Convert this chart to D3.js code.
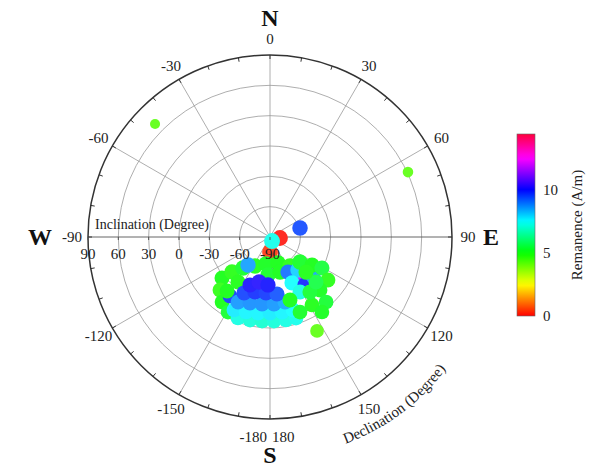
<!DOCTYPE html>
<html>
<head>
<meta charset="utf-8">
<script src="https://cdn.jsdelivr.net/npm/d3@7"></script>
<style>
  body { margin: 0; background: #fff; }
  text { font-family: "Liberation Serif", "Times New Roman", serif; fill: #222; }
</style>
</head>
<body>
<div id="chart"></div>
<script>
// Data: declination (deg, clockwise from N), inclination (deg), remanence (A/m)
const declination = [
  149, 180, 180,
  229.5, 227.4, 221, 207.3, 188.4, 162.9, 223.3, 216.4, 209.2, 215.4, 183, 164, 145.4, 214.1, 218.5,
  201.6, 193.5, 185.4, 177.3, 169.1, 162.2,
  206.3, 197.7, 189, 180, 170.9, 162.5,
  206.2, 196.9, 186.8, 176.6, 167,
  204.9, 195.3, 184.1, 173,
  202.6, 193.7, 182.4,
  152.8, 139.7, 154.4, 143.9, 132.2, 151.4,
  129.8, 123.7, 120.8, 126.6, 136.7, 139.2, 148.3, 158.2, 162.4, 144, 134.4, 145.3, 134.2,
  218.2, 314.5, 64.8, 153.4,
  73.3, 95.7, 153.4
];
const inclination = [
  -38.1, -59.3, -75.2,
  -27.6, -38.9, -49.3, -57.7, -63, -63.1, -17.9, -10.1, -4.9, -35.4, -52.4, -54, -55.2, -19.5, -21.8,
  -3.9, -5.5, -6.5, -6.8, -6.4, -5.8,
  -9.5, -12.2, -13.9, -14.8, -14.8, -14.3,
  -18.4, -21.8, -23.3, -23.6, -24,
  -29, -33.6, -34.5, -33.2,
  -38.6, -44.2, -42.5,
  -51, -47.2, -39.6, -31.3, -32.6, -28,
  -51.4, -40, -30.2, -18.6, -17.9, -5.1, -11, -10.1, -24.6, -22.8, -26.3, 0.3, -40.3,
  -54.8, 69.4, 60.8, 13.9,
  -59, -80.1, -85.5
];
const remanence = [
  12, 12, 0.4,
  5, 4.8, 5.2, 4.9, 5.1, 5, 4.7, 5, 5.3, 4.9, 5.2, 5, 4.8, 9.6, 5,
  7.2, 7.1, 7.0, 7.1, 7.2, 7.3,
  7.7, 7.6, 7.6, 7.7, 7.6, 7.5,
  8.6, 8.7, 8.7, 8.6, 8.4,
  9.5, 9.7, 9.6, 9.3,
  10.1, 10.2, 10,
  9, 8, 7.5, 9.8, 8.5, 7.2,
  5.2, 5, 5.4, 4.8, 5.1, 5.3, 4.9, 5.2, 5, 5.3, 5.5, 5.1, 4.9,
  8.5, 4.2, 4.2, 4.2,
  9.4, 0.1, 7.3
];

const decTicks = d3.range(0, 360, 30);
const decLabels = ["0", "30", "60", "90", "120", "150", "180", "-150", "-120", "-90", "-60", "-30"];
const incTicks = [90, 60, 30, 0, -30, -60, -90];
const colorTicks = [0, 5, 10];

const width = 608, height = 469;
const cx = 270, cy = 237, R = 182;

const svg = d3.select("#chart").append("svg")
  .attr("width", width)
  .attr("height", height);

const g = svg.append("g").attr("transform", `translate(${cx},${cy})`);

// scales
const rScale = d3.scaleLinear().domain([-90, 90]).range([0, R]);
const aScale = d3.scaleLinear().domain([0, 360]).range([0, 2 * Math.PI]);
const hue = d3.scaleLinear().domain([0, 15]).range([0, 360]);
const color = (v, l = 0.5) => d3.hsl(hue(v), 1, l).toString();
const size = d3.scaleLinear().domain([-90, 0, 70]).range([8, 7.3, 5]);

const px = (dec, inc) => rScale(inc) * Math.sin(aScale(dec));
const py = (dec, inc) => -rScale(inc) * Math.cos(aScale(dec));

// rings
g.selectAll(".ring")
  .data([-60, -30, 0, 30, 60])
  .join("circle")
  .attr("r", d => rScale(d))
  .attr("fill", "none")
  .attr("stroke", "#999")
  .attr("stroke-width", 0.8);

// spokes
g.selectAll(".spoke")
  .data(decTicks.filter(d => d !== 90 && d !== 270))
  .join("line")
  .attr("x1", 0).attr("y1", 0)
  .attr("x2", d => px(d, 90))
  .attr("y2", d => py(d, 90))
  .attr("stroke", "#999")
  .attr("stroke-width", 0.8);

// horizontal inclination axis
g.append("line")
  .attr("x1", -R).attr("x2", R)
  .attr("y1", 0).attr("y2", 0)
  .attr("stroke", "#555")
  .attr("stroke-width", 0.9);

// outer circle
g.append("circle")
  .attr("r", R)
  .attr("fill", "none")
  .attr("stroke", "#333")
  .attr("stroke-width", 1.5);

// minor ticks every 10 degrees
g.selectAll(".mtick")
  .data(d3.range(0, 360, 10))
  .join("line")
  .attr("x1", d => R * Math.sin(aScale(d)))
  .attr("y1", d => -R * Math.cos(aScale(d)))
  .attr("x2", d => (R - 4) * Math.sin(aScale(d)))
  .attr("y2", d => -(R - 4) * Math.cos(aScale(d)))
  .attr("stroke", "#333")
  .attr("stroke-width", 1);

// points
g.selectAll(".pt")
  .data(declination.map((d, i) => ({ dec: d, inc: inclination[i], val: remanence[i] })))
  .join("circle")
  .attr("cx", d => px(d.dec, d.inc))
  .attr("cy", d => py(d.dec, d.inc))
  .attr("r", d => size(d.inc))
  .attr("fill", d => color(d.val, 0.57));

// inclination tick labels (W side)
g.selectAll(".itick")
  .data(incTicks)
  .join("line")
  .attr("x1", d => -rScale(d)).attr("x2", d => -rScale(d))
  .attr("y1", 0).attr("y2", 3)
  .attr("stroke", "#555");

g.selectAll(".ilabel")
  .data(incTicks)
  .join("text")
  .attr("x", d => -rScale(d))
  .attr("y", 22)
  .attr("text-anchor", "middle")
  .style("font-size", "15px")
  .text(d => d);

g.append("text")
  .attr("x", -175)
  .attr("y", -8)
  .style("font-size", "14px")
  .text("Inclination (Degree)");

// declination labels
g.selectAll(".dlabel")
  .data(decTicks.map((d, i) => ({ d, label: decLabels[i] })).filter(d => d.d !== 180))
  .join("text")
  .attr("x", d => 198 * Math.sin(aScale(d.d)))
  .attr("y", d => -198 * Math.cos(aScale(d.d)))
  .attr("text-anchor", "middle")
  .attr("dy", "0.35em")
  .style("font-size", "15px")
  .text(d => d.label);

g.append("text").attr("x", -3).attr("y", 200).attr("dy", "0.35em")
  .attr("text-anchor", "end").style("font-size", "15px").text("-180");
g.append("text").attr("x", 2).attr("y", 200).attr("dy", "0.35em")
  .attr("text-anchor", "start").style("font-size", "15px").text("180");

// compass letters
const compass = [["N", 0, -219], ["S", 0, 218], ["W", -230, 0], ["E", 221, 0]];
g.selectAll(".compass")
  .data(compass)
  .join("text")
  .attr("x", d => d[1])
  .attr("y", d => d[2])
  .attr("dy", "0.35em")
  .attr("text-anchor", "middle")
  .style("font-size", "24px")
  .style("font-weight", "bold")
  .style("fill", "#111")
  .text(d => d[0]);

// declination axis title along the arc
const ar = 220;
const a0 = aScale(161), a1 = aScale(95);
g.append("path")
  .attr("id", "decArc")
  .attr("fill", "none")
  .attr("d", `M${ar * Math.sin(a0)},${-ar * Math.cos(a0)} A${ar},${ar} 0 0 0 ${ar * Math.sin(a1)},${-ar * Math.cos(a1)}`);
g.append("text")
  .style("font-size", "15px")
  .append("textPath")
  .attr("href", "#decArc")
  .attr("startOffset", 4)
  .text("Declination (Degree)");

// colour bar
const barX = 517, barW = 18, barTop = 134, barBot = 316;
const cScale = d3.scaleLinear().domain([0, 14.4]).range([barBot, barTop]);
const defs = svg.append("defs");
const grad = defs.append("linearGradient")
  .attr("id", "rem")
  .attr("x1", 0).attr("y1", 1).attr("x2", 0).attr("y2", 0);
grad.selectAll("stop")
  .data(d3.range(0, 14.41, 0.4))
  .join("stop")
  .attr("offset", d => d / 14.4)
  .attr("stop-color", d => color(d));

svg.append("rect")
  .attr("x", barX).attr("y", barTop)
  .attr("width", barW).attr("height", barBot - barTop)
  .attr("fill", "url(#rem)")
  .attr("stroke", "#666")
  .attr("stroke-width", 0.6);

svg.append("g")
  .attr("transform", `translate(${barX + barW},0)`)
  .style("font-size", "15px")
  .call(d3.axisRight(cScale).tickValues(colorTicks).tickSize(0).tickPadding(8))
  .call(a => a.select(".domain").remove())
  .selectAll("text")
  .style("font-family", "'Liberation Serif', serif")
  .style("fill", "#222");

svg.append("text")
  .attr("transform", `translate(582,225) rotate(-90)`)
  .attr("text-anchor", "middle")
  .style("font-size", "15px")
  .text("Remanence (A/m)");
</script>
</body>
</html>
